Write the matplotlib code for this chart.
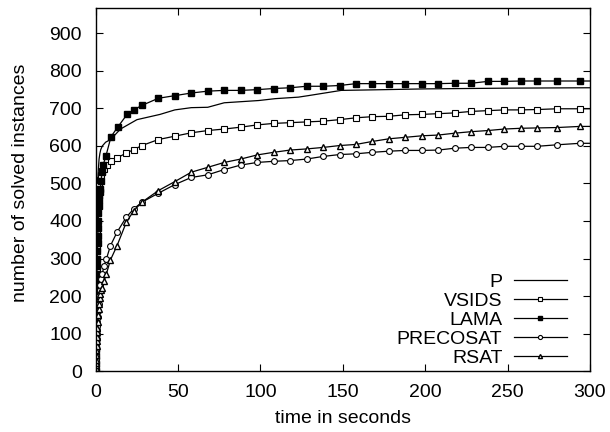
import matplotlib
matplotlib.use("Agg")
import matplotlib.pyplot as plt

plt.rcParams['font.family'] = ['Liberation Sans', 'DejaVu Sans']
plt.rcParams['font.size'] = 14

# time steps (seconds) shared by the marked series after the start-up phase
tail_t = [128, 138, 148, 158, 168, 178, 188, 198, 208, 218, 228, 238, 248, 258, 268, 280, 294, 300]

p_t = [0, 0.1, 0.2, 0.35, 0.5, 0.65, 0.8, 1.0, 1.2, 1.4, 1.6, 2, 2.5, 3, 4, 6, 9, 15, 25, 39,
       48, 58, 68, 78, 99, 109, 123, 129, 149, 163, 200, 250, 300]
p_y = [0, 60, 150, 230, 300, 370, 420, 470, 500, 525, 540, 565, 580, 590, 600, 610, 617, 645,
       670, 684, 696, 702, 703, 715, 721, 726, 730, 734, 748, 749, 752, 754, 755]

lama_t = [0, 0.05, 0.1, 0.15, 0.2, 0.25, 0.3, 0.35, 0.4, 0.45, 0.5, 0.55, 0.6, 0.7, 0.8, 0.9,
          1.0, 1.1, 1.2, 1.35, 1.5, 1.65, 1.8, 2.0, 2.2, 2.5, 2.8, 3.2, 3.8, 4.4,
          6.2, 9.3, 13.3, 19, 23, 28, 38, 48, 58, 68, 78, 88, 98, 108, 118] + tail_t
lama_y = [0, 20, 40, 60, 80, 100, 120, 140, 160, 180, 200, 220, 240, 260, 280, 300,
          320, 340, 360, 380, 400, 420, 440, 455, 470, 478, 485, 507, 530, 548,
          574, 625, 650, 684, 696, 708, 727, 734, 741, 746, 748, 748, 750, 753, 755,
          759, 759, 761, 766, 766, 766, 766, 766, 766, 767, 767, 772, 772, 773, 773, 773, 773, 773]

vsids_t = [0, 0.05, 0.1, 0.15, 0.2, 0.25, 0.3, 0.35, 0.4, 0.45, 0.5, 0.6, 0.7, 0.8, 0.9, 1.0,
           1.1, 1.25, 1.4, 1.6, 1.8, 2.3, 3, 4, 5.2, 6.8, 9.3,
           12.9, 18.5, 23, 28, 38, 48, 58, 68, 78, 88, 98, 108, 118] + tail_t
vsids_y = [0, 30, 60, 90, 120, 150, 180, 210, 240, 270, 300, 325, 350, 375, 400, 420,
           440, 455, 470, 483, 495, 510, 522, 532, 539, 550, 559,
           568, 581, 590, 601, 617, 626, 635, 641, 645, 650, 656, 660, 662,
           664, 666, 670, 675, 678, 679, 683, 684, 686, 688, 692, 694, 696, 696, 697, 699, 699, 699]

precosat_t = [0, 0.05, 0.1, 0.15, 0.2, 0.3, 0.4, 0.5, 0.6, 0.7, 0.8, 0.9, 1.1, 1.4, 1.7, 2.0,
              2.4, 2.8, 3.3, 4, 5, 6.4, 8.9, 12.9, 18.5, 23, 28, 38, 48, 58, 68, 78, 88, 98,
              108, 118] + tail_t
precosat_y = [0, 10, 20, 30, 40, 55, 70, 85, 100, 110, 120, 130, 145, 160, 180, 200,
              215, 230, 245, 260, 280, 298, 334, 370, 410, 432, 450, 474, 497, 516, 523, 537,
              549, 556, 559, 561,
              565, 572, 577, 579, 583, 586, 588, 588, 589, 594, 596, 596, 599, 599, 599, 603, 607, 607]

rsat_t = [0, 0.05, 0.1, 0.15, 0.2, 0.3, 0.4, 0.5, 0.6, 0.7, 0.8, 0.9, 1.1, 1.4, 1.7, 2.0,
          2.4, 2.8, 3.3, 3.8, 5, 6.4, 8.9, 12.9, 18.5, 23, 28, 38, 48, 58, 68, 78, 88, 98,
          108, 118] + tail_t
rsat_y = [0, 8, 15, 22, 30, 42, 55, 68, 80, 92, 105, 115, 130, 150, 165, 180,
          195, 205, 215, 222, 240, 258, 296, 334, 396, 427, 450, 481, 505, 530, 543, 556,
          565, 576, 583, 589,
          592, 596, 601, 604, 612, 619, 623, 627, 629, 634, 638, 641, 645, 647, 648, 649, 652, 652]

fig = plt.figure(figsize=(6.1, 4.32), dpi=100)
ax = fig.add_axes([0.157, 0.141, 0.81, 0.84])

lw = 0.9
ms = 4.2
skip_last = slice(0, -1)
ax.plot(p_t, p_y, color="black", lw=lw, label="P")
ax.plot(vsids_t, vsids_y, color="black", lw=lw, marker="s", ms=ms, mfc="white", mec="black",
        mew=0.8, markevery=skip_last, label="VSIDS")
ax.plot(lama_t, lama_y, color="black", lw=lw, marker="s", ms=ms, mfc="black", mec="black",
        markevery=skip_last, label="LAMA")
ax.plot(precosat_t, precosat_y, color="black", lw=lw, marker="o", ms=ms, mfc="white", mec="black",
        mew=0.8, markevery=skip_last, label="PRECOSAT")
ax.plot(rsat_t, rsat_y, color="black", lw=lw, marker="^", ms=ms, mfc="white", mec="black",
        mew=1.0, markevery=skip_last, label="RSAT")

ax.set_xlim(0, 300)
ax.set_ylim(0, 967)
ax.set_xticks(range(0, 301, 50))
ax.set_yticks(range(0, 901, 100))
ax.tick_params(axis="both", direction="in", top=True, right=True, length=5, width=0.8)
ax.tick_params(axis="x", pad=9)
ax.tick_params(axis="y", pad=10)
for s in ax.spines.values():
    s.set_linewidth(1.0)

ax.set_xlabel("time in seconds")
ax.set_ylabel("number of solved instances")
ax.xaxis.set_label_coords(0.5, -0.107)
ax.yaxis.set_label_coords(-0.136, 0.52)

ax.legend(loc="lower right", bbox_to_anchor=(0.953, 0.012), frameon=False, markerfirst=False,
          handlelength=2.7, labelspacing=0.07, markerscale=0.7, borderaxespad=0.0,
          borderpad=0.0, handletextpad=0.6)

fig.savefig("out.png", dpi=100)
